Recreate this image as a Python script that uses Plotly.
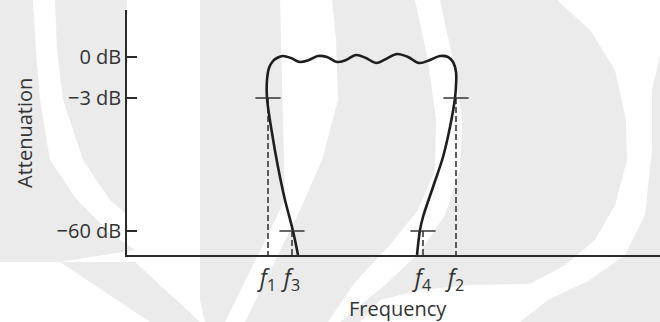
import plotly.graph_objects as go

# ---- data -----------------------------------------------------------------
# Frequency in arbitrary units along the horizontal axis; attenuation drawn on a
# schematic level scale whose labelled levels are listed below.
level_ticks = [19.8, 15.7, 2.4]
level_labels = ["0 dB", "−3 dB", "−60 dB"]

edge_names = ["<i>f</i><sub>1</sub>", "<i>f</i><sub>3</sub>",
              "<i>f</i><sub>4</sub>", "<i>f</i><sub>2</sub>"]
edge_freqs = [14.1, 16.5, 29.6, 32.9]
edge_levels = [15.7, 2.4, 2.4, 15.7]

# band-pass response: lower skirt, rippled pass band, upper skirt
resp_freq = [17.1, 16.6, 15.8, 15.1, 14.5, 14.0, 14.0, 14.2, 14.6, 15.0,
             15.6, 16.4, 17.3, 18.2, 19.1, 20.0, 21.0, 21.9, 22.9, 23.9,
             24.9, 25.9, 27.0, 28.1, 29.2, 30.3, 31.3, 32.1, 32.6, 32.9,
             32.9, 32.8, 32.3, 31.6, 30.6, 29.6, 29.3, 29.0]
resp_level = [0.0, 2.4, 5.5, 8.8, 12.2, 15.7, 17.5, 18.7, 19.4, 19.7,
              19.9, 19.7, 19.3, 19.5, 19.9, 19.8, 19.3, 19.5, 20.0, 19.7,
              19.2, 19.6, 20.1, 19.8, 19.2, 19.5, 19.9, 19.8, 19.3, 18.3,
              17.0, 15.7, 12.8, 9.8, 6.8, 3.8, 2.5, 0.0]

# ---- frame geometry (pixels) ----------------------------------------------
W, H = 660, 322
ML, MR, MT, MB = 127, 0, 10, 67
PW, PH = W - ML - MR, H - MT - MB


def px_to_paper(px, py):
    return (px - ML) / PW, (H - MB - py) / PH


def poly_path(points):
    parts = []
    for i, (px, py) in enumerate(points):
        x, y = px_to_paper(px, py)
        parts.append(("M" if i == 0 else "L") + f"{x:.4f},{y:.4f}")
    return " ".join(parts) + " Z"


# soft grey background emblem
emblem = [
    [(0, 0), (33, 0), (36, 50), (40, 100), (50, 160), (77, 200), (110, 233),
     (135, 250), (60, 262), (0, 262)],
    [(55, 0), (127, 0), (127, 215), (110, 200), (83, 160), (63, 100), (57, 50)],
    [(60, 262), (135, 262), (200, 322), (150, 322)],
    [(200, 0), (280, 0), (285, 200), (225, 322), (205, 322), (200, 300)],
    [(332, 0), (415, 0), (428, 60), (436, 120), (435, 170), (418, 210),
     (390, 245), (355, 282), (328, 322), (245, 322), (300, 210), (322, 160),
     (338, 100), (336, 40)],
    [(440, 0), (557, 0), (590, 30), (615, 70), (626, 120), (627, 160),
     (615, 205), (595, 240), (565, 265), (530, 284), (470, 285), (420, 290),
     (380, 300), (360, 322), (340, 322), (385, 285), (420, 252), (445, 215),
     (460, 170), (462, 120), (453, 60)],
    [(660, 55), (660, 322), (520, 322), (548, 300), (590, 280), (625, 255),
     (645, 215), (652, 150), (652, 90)],
]

shapes = [dict(type="path", path=poly_path(p), xref="paper", yref="paper",
               fillcolor="#ebebeb", line=dict(width=0), layer="below")
          for p in emblem]

fig = go.Figure()

# dashed drop lines from the marked points to the frequency axis
drop_x, drop_y = [], []
for f, lv in zip(edge_freqs, edge_levels):
    drop_x += [f, f, None]
    drop_y += [lv, 0, None]
fig.add_trace(go.Scatter(x=drop_x, y=drop_y, mode="lines",
                         line=dict(color="#444444", width=1.7, dash="6px,3px"),
                         hoverinfo="skip"))

# response curve
fig.add_trace(go.Scatter(x=resp_freq, y=resp_level, mode="lines",
                         line=dict(color="#1e1e1e", width=2.6, shape="spline",
                                   smoothing=1.0),
                         hoverinfo="skip"))

# short crossing marks at the -3 dB and -60 dB points
fig.add_trace(go.Scatter(x=edge_freqs, y=edge_levels, mode="markers",
                         marker=dict(symbol="line-ew", size=18,
                                     line=dict(color="#333333", width=1.5)),
                         hoverinfo="skip"))

fx, fy = px_to_paper(398, 308)
ax_x, ax_y = px_to_paper(24, 133)

fig.update_layout(
    width=W, height=H,
    margin=dict(l=ML, r=MR, t=MT, b=MB, pad=0),
    paper_bgcolor="white", plot_bgcolor="rgba(0,0,0,0)",
    showlegend=False,
    font=dict(family="Open Sans", size=20, color="#333333"),
    shapes=shapes,
    xaxis=dict(range=[0, PW / 10], showline=True, linecolor="#2b2b2b",
               linewidth=1.5, showgrid=False, zeroline=False,
               tickvals=edge_freqs, ticktext=edge_names, ticks="",
               ticklabelstandoff=2, tickfont=dict(size=23, color="#333333")),
    yaxis=dict(range=[0, PH / 10], showline=True, linecolor="#2b2b2b",
               linewidth=1.5, showgrid=False, zeroline=False,
               tickvals=level_ticks, ticktext=level_labels, ticks="inside",
               ticklen=10, tickwidth=1.5, tickcolor="#2b2b2b",
               ticklabelstandoff=0, tickfont=dict(size=20, color="#333333")),
    annotations=[
        dict(text="Frequency", x=fx, y=fy, xref="paper", yref="paper",
             showarrow=False, xanchor="center", yanchor="middle",
             font=dict(size=20, color="#333333")),
        dict(text="Attenuation", x=ax_x, y=ax_y, xref="paper", yref="paper",
             showarrow=False, xanchor="center", yanchor="middle",
             textangle=-90, font=dict(size=20, color="#333333")),
    ],
)

fig.write_html("out.html")
